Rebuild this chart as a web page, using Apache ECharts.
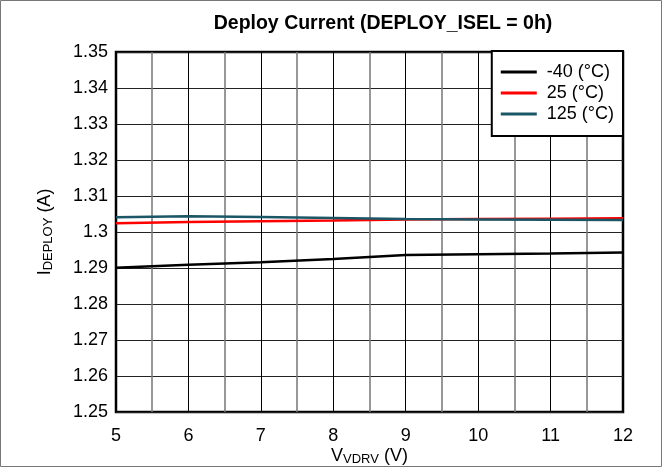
<!DOCTYPE html>
<html><head><meta charset="utf-8">
<script src="https://cdn.jsdelivr.net/npm/echarts@6/dist/echarts.min.js"></script>
<style>html,body{margin:0;padding:0;background:#fff}#c{width:662px;height:467px}</style>
</head><body><div id="c"></div>
<script>
var xVals = [5, 6, 7, 8, 9, 10, 11, 12];
var seriesNames = ['-40 (°C)', '25 (°C)', '125 (°C)'];
var valsM40 = [1.2901, 1.2909, 1.2916, 1.2925, 1.2936, 1.2938, 1.2940, 1.2943];
var vals25 = [1.3024, 1.3028, 1.3030, 1.3032, 1.3035, 1.3036, 1.3037, 1.3038];
var vals125 = [1.3041, 1.3044, 1.3042, 1.3039, 1.3036, 1.3035, 1.3034, 1.3033];
var colors = ['#000000', '#ff0000', '#1a5666'];
var font = '"Liberation Sans", Arial, sans-serif';

function pairs(v){ return xVals.map(function(x,i){ return [x, v[i]]; }); }

var chart = echarts.init(document.getElementById('c'), null, {renderer:'canvas'});
chart.setOption({
  animation: false,
  backgroundColor: '#fff',
  textStyle: {fontFamily: font},
  title: {
    text: 'Deploy Current (DEPLOY_ISEL = 0h)',
    left: 378, textAlign: 'center', top: 9,
    textStyle: {fontFamily: font, fontSize: 19.5, fontWeight: 'bold', color: '#000'}
  },
  graphic: [{
    type: 'rect', silent: true,
    shape: {x: 0.5, y: 0.5, width: 661, height: 466},
    style: {fill: 'none', stroke: '#777', lineWidth: 1}
  }],
  legend: {
    right: 39, top: 51,
    orient: 'vertical',
    backgroundColor: '#fff',
    borderColor: '#000', borderWidth: 2,
    padding: [12, 9, 13, 9],
    itemGap: 3,
    itemWidth: 36, itemHeight: 3,
    icon: 'rect',
    data: seriesNames,
    textStyle: {fontFamily: font, fontSize: 18, color: '#000', padding: [0, 0, 0, 5]}
  },
  grid: {left: 116, right: 39, top: 52, bottom: 55, show: true, borderColor: '#000', borderWidth: 2.5,
    containLabel: false, outerBoundsMode: 'none'},
  xAxis: {
    type: 'value', min: 5, max: 12, interval: 1,
    name: '{a|V}{b|VDRV}{a| (V)}', nameLocation: 'middle', nameGap: 34, nameMoveOverlap: false,
    nameTextStyle: {rich: {
      a: {fontFamily: font, fontSize: 18, color: '#000'},
      b: {fontFamily: font, fontSize: 13, color: '#000', verticalAlign: 'bottom', padding: [7,0,0,0]}
    }},
    axisLine: {show: false}, axisTick: {show: false},
    axisLabel: {fontFamily: font, fontSize: 18, color: '#000', margin: 15},
    splitLine: {show: true, lineStyle: {color: '#000', width: 1}},
    minorTick: {show: false, splitNumber: 2},
    minorSplitLine: {show: true, lineStyle: {color: '#777', width: 1.5}}
  },
  yAxis: {
    type: 'value', min: 1.25, max: 1.35, interval: 0.01,
    name: '{a|I}{b|DEPLOY}{a| (A)}', nameLocation: 'middle', nameGap: 61, nameRotate: 90, nameMoveOverlap: false,
    nameTextStyle: {rich: {
      a: {fontFamily: font, fontSize: 18, color: '#000'},
      b: {fontFamily: font, fontSize: 13, color: '#000', verticalAlign: 'bottom', padding: [7,0,0,0]}
    }},
    axisLine: {show: false}, axisTick: {show: false},
    axisLabel: {fontFamily: font, fontSize: 18, color: '#000', margin: 8,
      formatter: function(v){ return String(parseFloat(v.toFixed(2))); }},
    splitLine: {show: true, lineStyle: {color: '#222', width: 1}}
  },
  series: [
    {name: seriesNames[0], type: 'line', data: pairs(valsM40), showSymbol: false, color: colors[0], lineStyle: {width: 2.5, color: colors[0]}, z: 3},
    {name: seriesNames[1], type: 'line', data: pairs(vals25), showSymbol: false, color: colors[1], lineStyle: {width: 2.5, color: colors[1]}, z: 3},
    {name: seriesNames[2], type: 'line', data: pairs(vals125), showSymbol: false, color: colors[2], lineStyle: {width: 2.5, color: colors[2]}, z: 4}
  ]
});
</script></body></html>
